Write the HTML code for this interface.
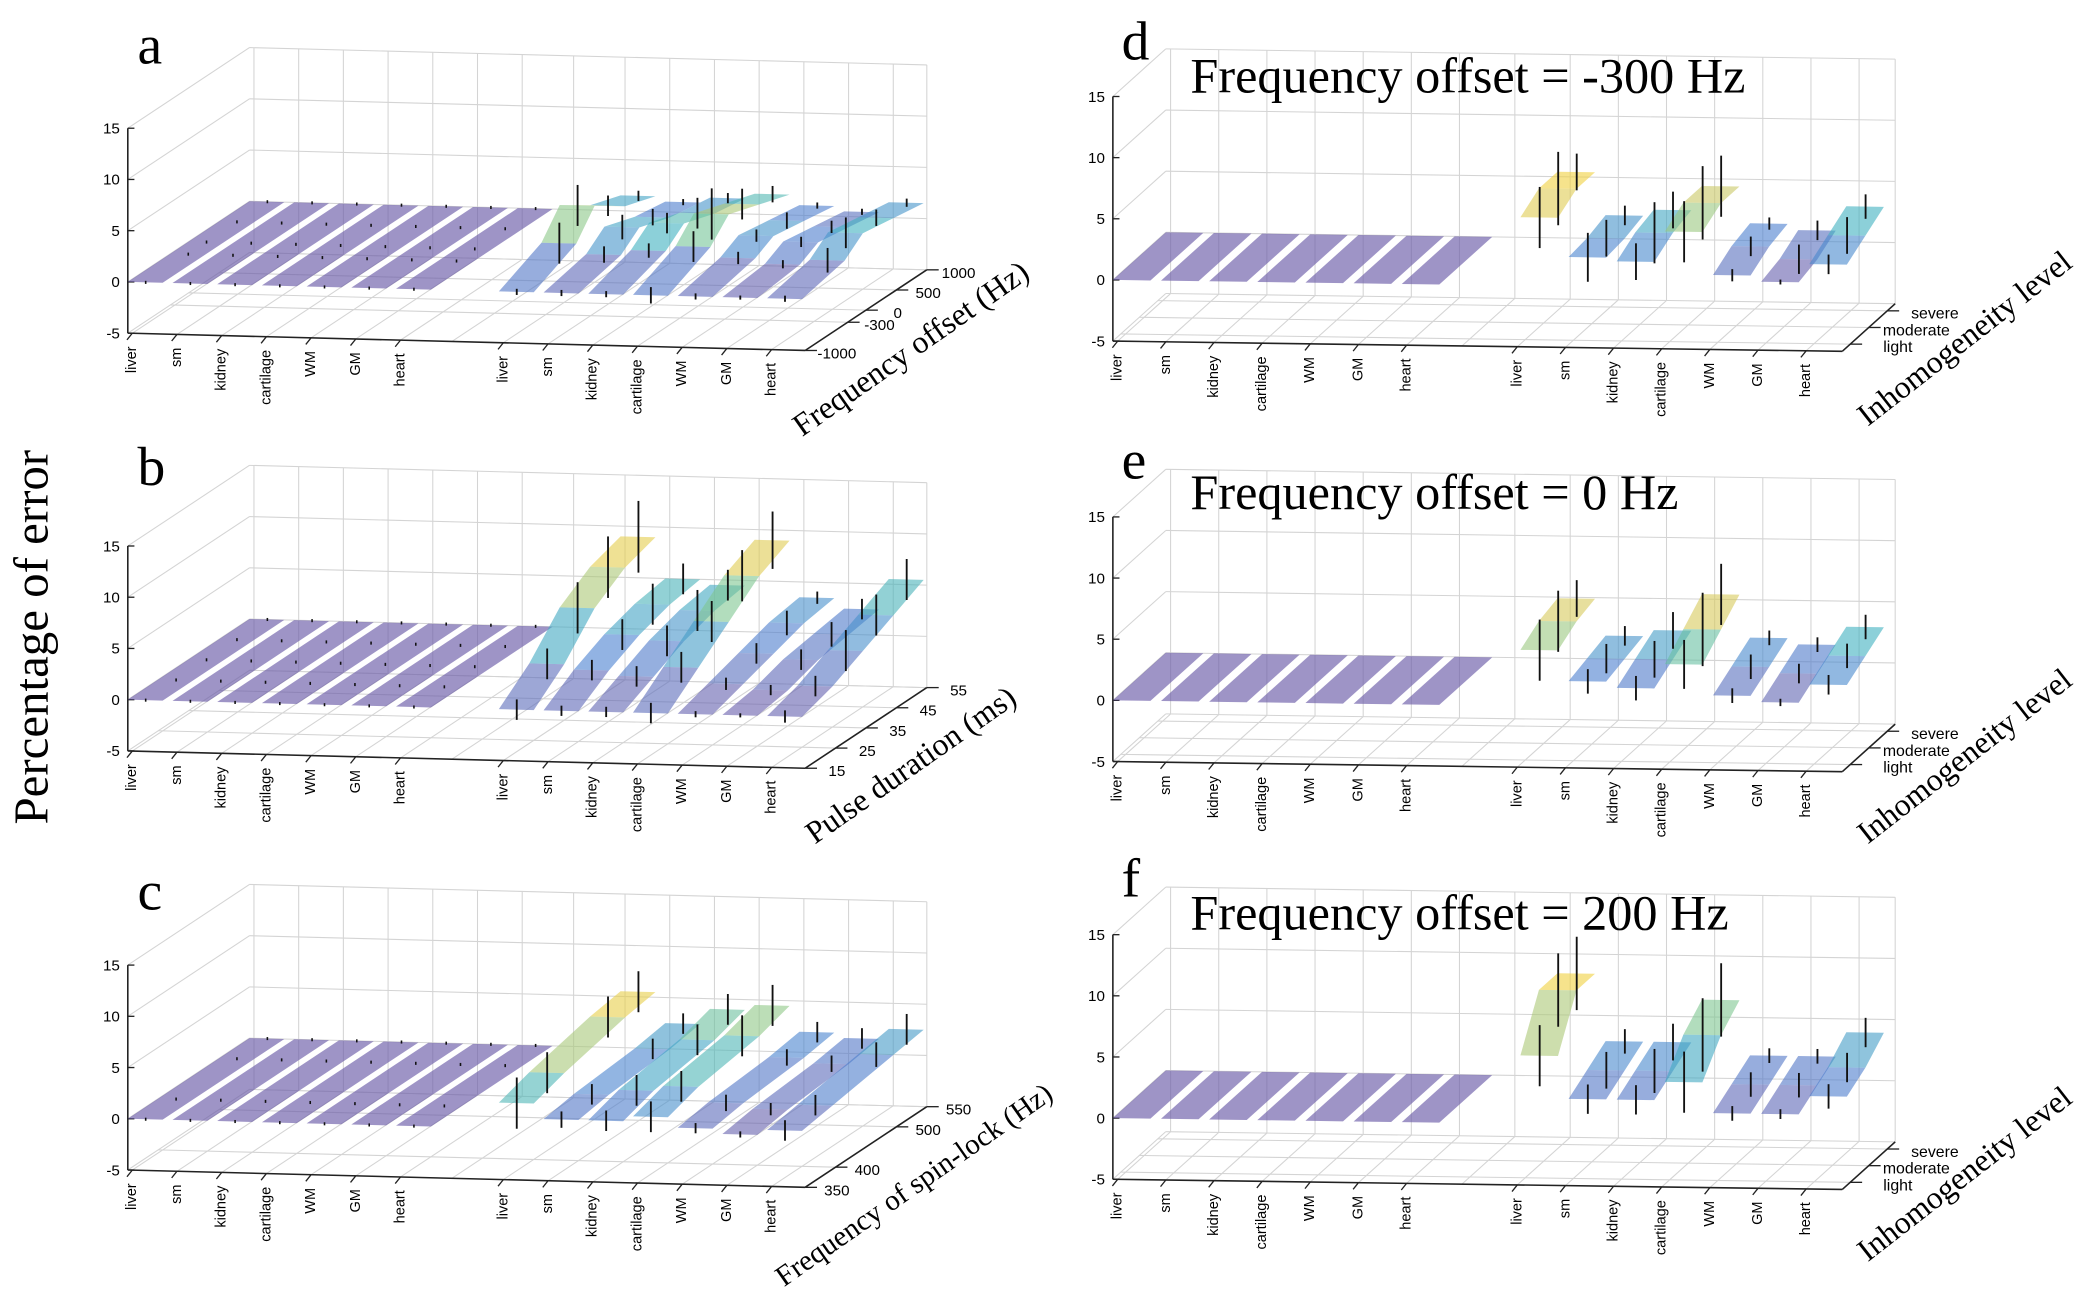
<!DOCTYPE html>
<html><head><meta charset="utf-8"><style>
html,body{margin:0;padding:0;background:#fff;}
svg{display:block;}
</style></head><body>
<svg id="fig" width="2074" height="1289" viewBox="0 0 1568 975" preserveAspectRatio="none" xmlns="http://www.w3.org/2000/svg">
<text x="36" y="482" transform="rotate(-90 36 482)" text-anchor="middle" font-family="Liberation Serif, serif" font-size="37">Percentage of error</text>
</svg>
<script>
const tissues = ["liver","sm","kidney","cartilage","WM","GM","heart"];
const zTicks = [-5,0,5,10,15];
// panel a: frequency offset levels
const aLevels = [-1000,-300,0,500,1000];
const aTickLabels = ["-1000","-300","0","500","1000"];
const aVals = [[0,2,4.5,2.5,1.5],[0,1,2.5,1.5,1],[0,1.5,3,2,1.5],[0,2,4,3,2],[0,1,2,1.5,1],[0,0.5,1.5,1,0.5],[0,1,2.5,2,1.5]];
const aErrs = [[0.3,2,2,1,0.5],[0.3,0.8,1.2,0.8,0.3],[0.3,0.7,1,1.5,0.5],[0.8,1.5,2.5,1.5,0.8],[0.3,0.6,0.6,0.8,0.3],[0.2,0.4,0.5,0.6,0.3],[0.3,1.2,1.5,0.8,0.4]];
// panel b: pulse duration levels
const bLevels = [15,25,35,45,55];
const bTickLabels = ["15","25","35","45","55"];
const bVals = [[0,2.5,6,8,9],[0,2,3.5,4.5,5],[0,1.5,3,4,4.5],[0,2.5,5,7.5,9],[0,1,2,3,3.5],[0,0.5,1.5,2,2.5],[0,1,2.5,4,5.5]];
const bErrs = [[1,1.5,2.5,3,3.5],[0.5,1,1.5,2,1.5],[0.5,1,1.5,2,1.5],[1,1.5,2,2.5,2.8],[0.3,0.6,1,1.2,0.6],[0.2,0.5,1,1.2,1],[0.6,1,2,2,2]];
// panel c: spin-lock frequency levels
const cLevels = [350,400,500,550];
const cTickLabels = ["350","400","500","550"];
const cVals = [[2.5,3.5,5,5.5],[1,1.5,2,2.5],[1,2,3,4],[1.5,2.5,3.5,4.5],[0.5,1,1.5,2],[0,0.5,1,1.5],[0.5,1,2,2.5]];
const cErrs = [[2.5,2,2,2],[0.8,1,1,1],[1,1.5,1.5,1.5],[1.5,1.5,2,2],[0.5,0.8,0.8,1],[0.3,0.6,0.8,1],[1,1,1.2,1.5]];
// panels d,e,f: inhomogeneity levels
const inhLevels = [1,2,3];
const inhTickLabels = ["light","moderate","severe"];
const dVals = [[5,6,6],[1.8,2,2.5],[1.5,2.5,3],[4,5,5],[0.5,1.5,2],[0,0.5,1.5],[1.5,2.5,3.5]];
const dErrs = [[2.5,3,1.5],[2,1.5,0.8],[1.5,2.5,1.5],[2.5,3,2.5],[0.5,0.8,0.5],[0.2,1.2,0.8],[0.8,1.5,1]];
const eVals = [[4,5,5.5],[1.5,2,2.5],[1,2,3],[3,4.5,6],[0.5,1.5,2.5],[0,1,2],[1.5,2.5,3.5]];
const eErrs = [[2.5,2.5,1.5],[1,1.2,0.8],[1,1.5,1.5],[2,3,2.5],[0.6,1,0.6],[0.3,0.8,0.6],[0.8,1,1]];
const fVals = [[5,9,9],[1.5,2.5,3.5],[1.5,2.5,3.5],[3,5.5,7],[0.5,1.5,2.5],[0.5,1.5,2.5],[2,3,4.5]];
const fErrs = [[2.5,3,3],[1.2,1.5,1],[1.2,1.8,1.5],[2.5,3,3],[0.6,1,0.6],[0.4,1,0.6],[1,1.2,1.2]];

const NS="http://www.w3.org/2000/svg";
const svg=document.getElementById('fig');
function mk(tag,attrs,parent){const e=document.createElementNS(NS,tag);for(const k in attrs)e.setAttribute(k,attrs[k]);(parent||svg).appendChild(e);return e;}
const stops=[[0,[106,90,168]],[0.3,[74,128,208]],[0.5,[64,176,192]],[0.7,[128,200,144]],[0.85,[210,200,96]],[1,[240,208,64]]];
function cmap(t){t=Math.max(0,Math.min(1,t));for(let i=1;i<stops.length;i++){if(t<=stops[i][0]){const a=stops[i-1],b=stops[i];const f=(t-a[0])/(b[0]-a[0]);const c=a[1].map((v,j)=>Math.round(v+(b[1][j]-v)*f));return `rgb(${c[0]},${c[1]},${c[2]})`;}}return 'rgb(240,208,64)';}

const posOf=i=>i<7?i:i+1.3;
function panel(cfg){
  const g=mk('g',{});
  
  
  const P=(x,d,z)=>{const sx=cfg.x0+x*cfg.sp; return [sx+d*cfg.D[0], cfg.oy+(sx-cfg.ox)*cfg.slope+d*cfg.D[1]-(z+5)*cfg.zPx];};
  const xs=-0.1, xe=14.3+0.75;
  const lmin=cfg.levels[0], lmax=cfg.levels[cfg.levels.length-1];
  const dOf=v=>cfg.dlo+(v-lmin)/(lmax-lmin)*(cfg.dhi-cfg.dlo);
  const line=(a,b,st,w,name)=>{const l=mk('line',{x1:a[0],y1:a[1],x2:b[0],y2:b[1],stroke:st,'stroke-width':w},g);return l;};
  for(const z of zTicks){line(P(xs,1,z),P(xe,1,z),'#d4d4d4',0.8,'grid-line');line(P(xs,0,z),P(xs,1,z),'#d4d4d4',0.8,'grid-line');}
  for(let k=0;k<14;k++){const x=posOf(k); line(P(x,1,-5),P(x,1,15),'#d4d4d4',0.8,'grid-line');line(P(x,0,-5),P(x,1,-5),'#d4d4d4',0.8,'grid-line');}
  line(P(posOf(6)+1.15,1,-5),P(posOf(6)+1.15,1,15),'#d4d4d4',0.8,'grid-line');
  line(P(xe,1,-5),P(xe,1,15),'#d4d4d4',0.8,'grid-line');
  line(P(posOf(6)+1.15,0,-5),P(posOf(6)+1.15,1,-5),'#d4d4d4',0.8,'grid-line');
  for(const v of cfg.levels){line(P(xs,dOf(v),-5),P(xe,dOf(v),-5),'#d4d4d4',0.8,'grid-line');}
  line(P(xs,0,-5),P(xs,0,15),'#222',1.2,'z-axis');
  line(P(xs,0,-5),P(xe,0,-5),'#222',1.2,'x-axis');
  line(P(xe,0,-5),P(xe,1,-5),'#222',1.2,'depth-axis');
  zTicks.forEach(z=>{const p=P(xs,0,z);line([p[0],p[1]],[p[0]+5,p[1]],'#222',1,'z-tick');
    const t=mk('text',{x:p[0]-6,y:p[1]+4,'text-anchor':'end','font-family':'Liberation Sans, sans-serif','font-size':11.5},g);t.textContent=String(z);});
  for(let i=0;i<14;i++){const x=posOf(i);const p=P(x,0,-5);line(p,[p[0]-4,p[1]+5],'#222',1,'x-tick');
    const tx=p[0]+3, ty=p[1]+10;const t=mk('text',{x:tx,y:ty,transform:`rotate(-90 ${tx} ${ty})`,'text-anchor':'end','font-family':'Liberation Sans, sans-serif','font-size':11},g);t.textContent=tissues[i%7];}
  cfg.levels.forEach((v,j)=>{const p=P(xe,dOf(v),-5);line(p,[p[0]+9,p[1]],'#222',1,'depth-tick');
    const t=mk('text',{x:p[0]+cfg.tlx,y:p[1]+cfg.tly,'text-anchor':'middle','font-family':'Liberation Sans, sans-serif','font-size':cfg.tfs||11.5},g);t.textContent=cfg.tickLabels[j];});
  for(let i=0;i<7;i++){const x0=posOf(i)-0.1,x1=x0+0.78;const pts=[P(x0,0,0),P(x1,0,0),P(x1,1,0),P(x0,1,0)];
    const pg=mk('polygon',{points:pts.map(p=>p.join(',')).join(' '),fill:cmap(0),'fill-opacity':0.65},g);}
  const vmax=Math.max(...cfg.vals.flat());
  for(let i=0;i<7;i++){const x0=posOf(i+7)-0.1,x1=x0+0.78;const vs=cfg.vals[i];
    for(let j=vs.length-2;j>=0;j--){const da=dOf(cfg.levels[j]),db=dOf(cfg.levels[j+1]);
      const pts=[P(x0,da,vs[j]),P(x1,da,vs[j]),P(x1,db,vs[j+1]),P(x0,db,vs[j+1])];
      const pg=mk('polygon',{points:pts.map(p=>p.join(',')).join(' '),fill:cmap((vs[j]+vs[j+1])/2/vmax),'fill-opacity':0.6},g);
      }}
  for(let i=0;i<7;i++){const xc=posOf(i+7)+0.3;cfg.vals[i].forEach((v,j)=>{const d=dOf(cfg.levels[j]),e=cfg.errs[i][j];
      line(P(xc,d,v-e),P(xc,d,v+e),'#111',1.4,'error-bar');});
    if(cfg.dots){const xl=posOf(i)+0.3;cfg.levels.forEach(v=>{const d=dOf(v);line(P(xl,d,-0.15),P(xl,d,0.15),'#111',1.2,'error-bar');});}}
  const L=mk('text',{x:cfg.lx,y:cfg.ly,'font-family':'Liberation Serif, serif','font-size':42},g);L.textContent=cfg.letter;
  if(cfg.title){const T=mk('text',{x:900,y:cfg.ty,'font-family':'Liberation Serif, serif','font-size':38},g);T.textContent=cfg.title;}
  const A=mk('text',{x:cfg.ax,y:cfg.ay,transform:`rotate(${cfg.ang} ${cfg.ax} ${cfg.ay})`,'text-anchor':'middle','font-family':'Liberation Serif, serif','font-size':cfg.afs||24},g);A.textContent=cfg.axisTitle;
}
const left={x0:100,sp:33.8,ox:97,slope:0.0256,zPx:7.75,D:[92,-61],dlo:0,dhi:1,tlx:24,tly:6,ang:-35,dots:true};
const right={x0:845,sp:36.4,ox:842,slope:0.014,zPx:9.25,D:[40,-36],dlo:0.15,dhi:0.85,tlx:36,tly:6,tfs:12,ang:-38,dots:false};
panel(Object.assign({},left,{name:'panel-a',oy:252,levels:aLevels,tickLabels:aTickLabels,vals:aVals,errs:aErrs,letter:'a',lx:104,ly:48,ax:693,ay:270,axisTitle:'Frequency offset (Hz)'}));
panel(Object.assign({},left,{name:'panel-b',oy:568,levels:bLevels,tickLabels:bTickLabels,vals:bVals,errs:bErrs,letter:'b',lx:104,ly:367,ax:693,ay:585,axisTitle:'Pulse duration (ms)'}));
panel(Object.assign({},left,{name:'panel-c',oy:885,levels:cLevels,tickLabels:cTickLabels,vals:cVals,errs:cErrs,letter:'c',lx:104,ly:688,ax:695,ay:902,afs:22,axisTitle:'Frequency of spin-lock (Hz)'}));
panel(Object.assign({},right,{name:'panel-d',oy:258,levels:inhLevels,tickLabels:inhTickLabels,vals:dVals,errs:dErrs,letter:'d',lx:848,ly:45,title:'Frequency offset = -300 Hz',ty:70,ax:1490,ay:262,axisTitle:'Inhomogeneity level'}));
panel(Object.assign({},right,{name:'panel-e',oy:576,levels:inhLevels,tickLabels:inhTickLabels,vals:eVals,errs:eErrs,letter:'e',lx:848,ly:362,title:'Frequency offset = 0 Hz',ty:385,ax:1490,ay:578,axisTitle:'Inhomogeneity level'}));
panel(Object.assign({},right,{name:'panel-f',oy:892,levels:inhLevels,tickLabels:inhTickLabels,vals:fVals,errs:fErrs,letter:'f',lx:848,ly:678,title:'Frequency offset = 200 Hz',ty:703,ax:1490,ay:894,axisTitle:'Inhomogeneity level'}));
</script>
</body></html>
